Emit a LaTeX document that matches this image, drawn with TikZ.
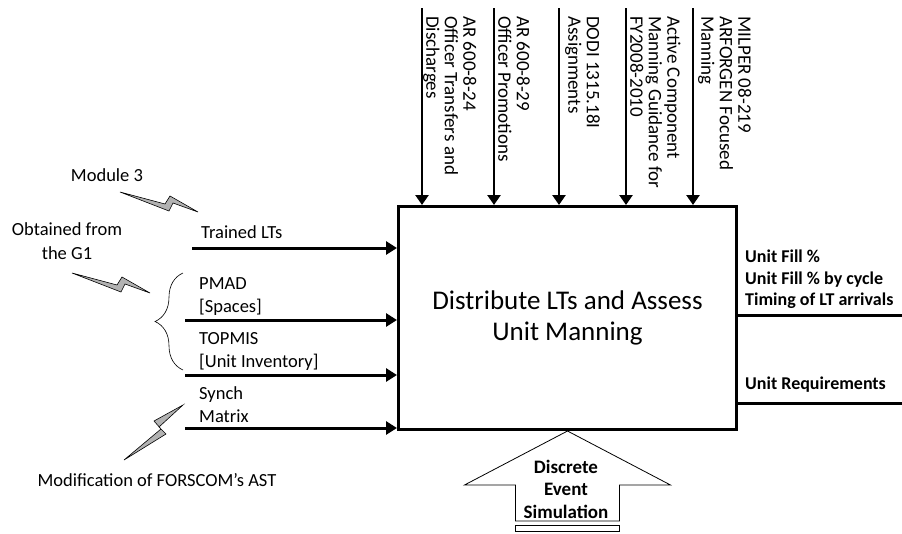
\documentclass[tikz,border=0pt]{standalone}
\usepackage{fontspec}
\setmainfont{Carlito}
\usetikzlibrary{arrows.meta,decorations.pathreplacing}

\tikzset{
  feed/.style={line width=3pt, -{Triangle[length=11pt,width=13pt]}},
  ctl/.style={line width=2.6pt, -{Triangle[length=10pt,width=13pt]}},
  boxline/.style={line width=3pt},
  bolt/.style={fill=black!30, draw=black, line width=0.6pt},
  lbl/.style={inner sep=0pt, align=left, font=\fontsize{18.5}{23.5}\selectfont},
  ctllbl/.style={inner sep=0pt, align=left, rotate=-90, anchor=south west, font=\fontsize{19}{18.5}\selectfont},
  outlbl/.style={inner sep=0pt, align=left, font=\bfseries\fontsize{18}{21.5}\selectfont},
}

\begin{document}
\begin{tikzpicture}[x=1pt, y=-1pt]
  \useasboundingbox (0,0) rectangle (902,533);
  % activity box
  \node[draw, boxline, minimum width=338pt, minimum height=223pt, anchor=north west, align=center,
        font=\fontsize{27}{31}\selectfont] (proc) at (397,205) {Distribute LTs and Assess\\Unit Manning};
  % controls from the top
  \foreach \n/\x/\tx/\txt in {1/422/423/{AR 600-8-24\\Officer Transfers and\\Discharges},
      2/494/498/{AR 600-8-29\\Officer Promotions},
      3/559/565/{DODI 1315.18I\\Assignments},
      4/626/630/{Active Component\\Manning Guidance for\\FY2008-2010},
      5/693/698/{MILPER 08-219\\ARFORGEN Focused\\Manning}}{
    \coordinate (ctl\n) at (\x,8);
    \draw[ctl] (ctl\n) -- (ctl\n |- proc.north);
    \node[ctllbl] (ctllbl\n) at (\tx,16) {\txt};
  }
  % inputs
  \coordinate (in1) at (192,248);
  \coordinate (in2) at (185,320);
  \coordinate (in3) at (185,375);
  \coordinate (in4) at (185,428);
  \foreach \n in {1,...,4}
    \draw[feed] (in\n) -- (in\n -| proc.west);
  \node[lbl, anchor=west] (trained) at (201,232) {Trained LTs};
  \node[lbl, anchor=north west] (pmad) at (199,277) {PMAD\\{[Spaces]}};
  \node[lbl, anchor=north west] (topmis) at (199,332) {TOPMIS\\{[Unit Inventory]}};
  \node[lbl, anchor=north west] (synch) at (199,386) {Synch\\Matrix};
  \draw[decorate, decoration={brace, amplitude=28pt}, line width=0.6pt] (183,370) -- (183,273);
  % sources
  \node[lbl, align=center] (mod3) at (107,175) {Module 3};
  \node[lbl, align=center] (g1) at (67,241) {Obtained from\\the G1};
  \node[lbl] (ast) at (157,480) {Modification of FORSCOM’s AST};
  \filldraw[bolt] (120,192) -- (165,204) -- (170,196) -- (198,212) -- (173,203) -- (169,211) -- cycle;
  \filldraw[bolt] (72,273) -- (117,285) -- (122,277) -- (150,293) -- (125,284) -- (121,292) -- cycle;
  \filldraw[bolt] (124,460) -- (161,429) -- (154,421) -- (183,405) -- (159,427) -- (166,434) -- cycle;
  % outputs
  \coordinate (out1) at (902,315);
  \coordinate (out2) at (902,403);
  \draw[boxline] (out1 -| proc.east) -- (out1);
  \draw[boxline] (out2 -| proc.east) -- (out2);
  \node[outlbl, anchor=north west] (fill) at (745,250) {Unit Fill \%\\Unit Fill \% by cycle\\Timing of LT arrivals};
  \node[outlbl, anchor=west] (req) at (745,385) {Unit Requirements};
  % mechanism
  \draw[line width=0.8pt] (proc.south) -- ++(103,54) -- ++(-51,0) -- ++(0,36) -- ++(-104,0)
    -- ++(0,-36) -- ++(-51,0) -- cycle;
  \draw[line width=0.8pt] (proc.south) ++(-52,94) rectangle ++(104,6);
  \node[inner sep=0pt, align=center, font=\bfseries\fontsize{19}{22.5}\selectfont] (des) at (566,489)
    {Discrete\\Event\\Simulation};
\end{tikzpicture}
\end{document}
